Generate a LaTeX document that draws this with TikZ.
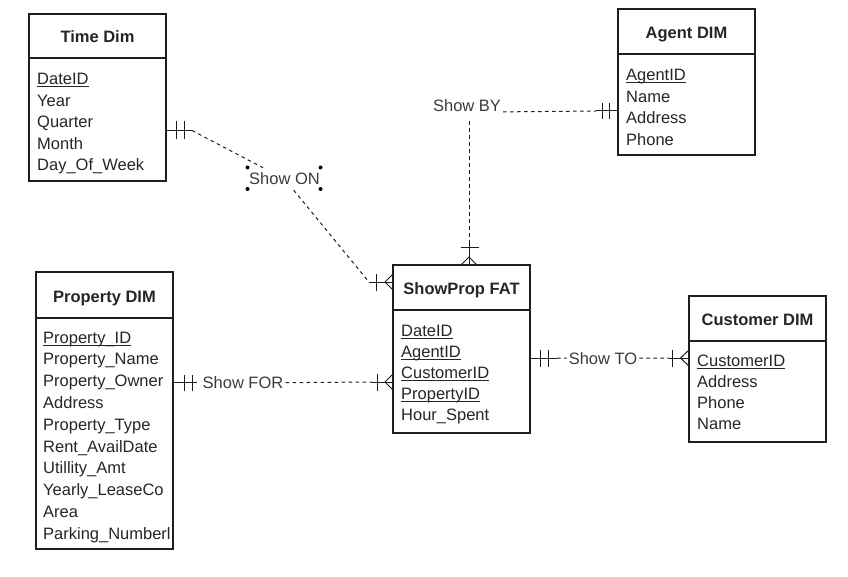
\documentclass[tikz,border=0pt]{standalone}
\usepackage{fontspec}
\setmainfont{Liberation Sans}
\definecolor{linec}{HTML}{1E1E1E}
\definecolor{textc}{HTML}{262626}
\definecolor{relc}{HTML}{3C3C3C}
\newcommand\myul[1]{\setbox0\hbox{#1}\rlap{\rule[-2.4pt]{\wd0}{0.9pt}}#1}
\tikzset{
  ent/.style={draw=linec, line width=1.3pt, inner sep=0pt, outer sep=0pt, anchor=north west, fill=white},
  sepl/.style={draw=linec, line width=1.3pt},
  ttl/.style={font=\fontsize{16.5}{19}\selectfont\bfseries, text=textc, anchor=base, inner sep=0pt},
  attr/.style={font=\fontsize{16.5}{19}\selectfont, text=textc, anchor=base west, inner sep=0pt},
  rel/.style={font=\fontsize{16.5}{19}\selectfont, text=relc, inner xsep=2pt, inner ysep=4pt},
  conn/.style={draw=linec, line width=1pt},
  dsh/.style={draw=linec, line width=1pt, dash pattern=on 3.5pt off 3.5pt},
}
\begin{document}
\begin{tikzpicture}[x=1pt,y=-1pt]
\fill[white] (0,0) rectangle (848,577);
\useasboundingbox (0,0) rectangle (848,577);

% ---------- Time Dim ----------
\node[ent, minimum width=137pt, minimum height=167pt] (time) at (29,14) {};
\draw[sepl] (29,58) -- (166,58);
\node[ttl] (timeT) at (97.5,42.5) {Time Dim};
\foreach \t [count=\i] in {\myul{DateID},Year,Quarter,Month,Day\_Of\_Week}
  \node[attr] (time\i) at (37,{85+21.4*(\i-1)}) {\t};

% ---------- Agent DIM ----------
\node[ent, minimum width=137pt, minimum height=146pt] (agent) at (618,9) {};
\draw[sepl] (618,54) -- (755,54);
\node[ttl] (agentT) at (686.5,38.5) {Agent DIM};
\foreach \t [count=\i] in {\myul{AgentID},Name,Address,Phone}
  \node[attr] (agent\i) at (626,{81+21.4*(\i-1)}) {\t};

% ---------- ShowProp FAT ----------
\node[ent, minimum width=137pt, minimum height=168pt] (fact) at (393,265) {};
\draw[sepl] (393,310) -- (530,310);
\node[ttl] (factT) at (461.5,294) {ShowProp FAT};
\foreach \t [count=\i] in {\myul{DateID},\myul{AgentID},\myul{CustomerID},\myul{PropertyID},Hour\_Spent}
  \node[attr] (fact\i) at (401,{336+21.2*(\i-1)}) {\t};

% ---------- Customer DIM ----------
\node[ent, minimum width=137pt, minimum height=146pt] (cust) at (689,296) {};
\draw[sepl] (689,341) -- (826,341);
\node[ttl] (custT) at (757.5,325) {Customer DIM};
\foreach \t [count=\i] in {\myul{CustomerID},Address,Phone,Name}
  \node[attr] (cust\i) at (697,{366+21.3*(\i-1)}) {\t};

% ---------- Property DIM ----------
\node[ent, minimum width=137pt, minimum height=277pt] (prop) at (36,272) {};
\draw[sepl] (36,318) -- (173,318);
\node[ttl] (propT) at (104.5,302) {Property DIM};
\foreach \t [count=\i] in {\myul{Property\_ID},Property\_Name,Property\_Owner,Address,Property\_Type,Rent\_AvailDate,Utillity\_Amt,Yearly\_LeaseCo,Area,Parking\_Numberl}
  \node[attr] (prop\i) at (43,{343+21.8*(\i-1)}) {\t};

% ---------- relationship labels ----------
\node[rel, inner ysep=5pt] (showon) at (284.5,179) {Show ON};
\node[rel] (showby) at (467,106) {Show BY};
\node[rel] (showto) at (603,358.5) {Show TO};
\node[rel] (showfor) at (243,383) {Show FOR};

% selection handles around Show ON
\foreach \p in {(247.5,167.5),(320.5,167.5),(247.5,189),(320.5,189)}
  \fill[black] \p circle (2pt);

% ---------- Time Dim -- ShowProp (Show ON) ----------
\coordinate (t0) at (166.7,130.5);
\coordinate (t1) at (192,130.5);
\coordinate (s0) at (369,282);
\coordinate (s1) at (393,282);
\draw[conn] (t0) -- (t1);
\draw[conn] (176,121) -- (176,139) (184,121) -- (184,139);
\draw[dsh] (t1) -- (showon);
\draw[dsh] (showon) -- (s0);
\draw[conn] (s0) -- (s1);
\draw[conn] (376.5,274) -- (376.5,291);
\draw[conn] (393,274) -- (385,282) -- (393,290);

% ---------- Agent DIM -- ShowProp (Show BY) ----------
\coordinate (a0) at (596,111);
\coordinate (a1) at (618,111);
\coordinate (f0) at (469,241);
\coordinate (f1) at (469,265);
\draw[dsh] (showby.base east) -- (a0);
\draw[conn] (a0) -- (a1);
\draw[conn] (602,103) -- (602,119) (609,103) -- (609,119);
\draw[dsh, shorten <=5pt] (showby.south -| f0) -- (f0);
\draw[conn] (f0) -- (f1);
\draw[conn] (460.5,247.5) -- (478.5,247.5);
\draw[conn] (461,265) -- (469,257) -- (477,265);

% ---------- ShowProp -- Customer DIM (Show TO) ----------
\coordinate (c0) at (530,358);
\coordinate (c1) at (557,358);
\coordinate (c2) at (669,358);
\coordinate (c3) at (689,358);
\draw[conn] (c0) -- (c1);
\draw[conn] (540,350) -- (540,367) (548,350) -- (548,367);
\draw[dsh] (c1) -- (showto);
\draw[dsh] (showto) -- (c2);
\draw[conn] (c2) -- (c3);
\draw[conn] (672,350) -- (672,366.5);
\draw[conn] (689,350) -- (680.5,358) -- (689,366);

% ---------- Property DIM -- ShowProp (Show FOR) ----------
\coordinate (p0) at (173,382.5);
\coordinate (p1) at (197,382.5);
\coordinate (p2) at (372,382);
\coordinate (p3) at (393,382);
\draw[conn] (p0) -- (p1);
\draw[conn] (184.5,374.5) -- (184.5,391) (192.5,374.5) -- (192.5,391);
\draw[dsh] (showfor) -- (p2);
\draw[conn] (p2) -- (p3);
\draw[conn] (377,374) -- (377,391);
\draw[conn] (393,374) -- (385,382) -- (393,390);
\end{tikzpicture}
\end{document}
